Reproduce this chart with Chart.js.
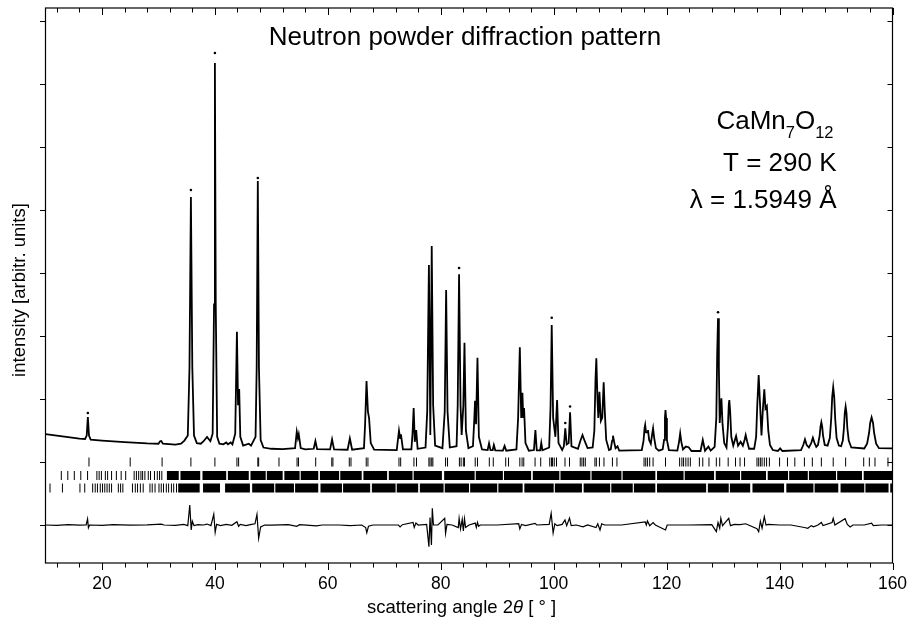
<!DOCTYPE html>
<html>
<head>
<meta charset="utf-8">
<script src="https://cdn.jsdelivr.net/npm/chart.js@4.4.1/dist/chart.umd.min.js"></script>
<style>
html,body{margin:0;padding:0;background:#fff;}
canvas{display:block;}
</style>
</head>
<body>
<canvas id="c" width="908" height="623" style="width:908px;height:623px"></canvas>
<script>
// ---------------- DATA ----------------
// calculated profile: 2theta [deg], intensity [arb.]
const profX = [10,12,14,16,17.0,17.3,17.5,17.7,18.0,20,24,28,30.0,30.3,30.5,30.8,33,34.0,34.6,35.2,35.5,35.75,36.0,36.3,36.8,37.5,38.0,38.6,39.2,39.6,39.85,40.0,40.15,40.4,40.8,41.5,42.0,42.3,42.8,43.1,43.6,43.9,44.1,44.3,44.5,45.0,46.0,46.4,47.2,47.4,47.6,47.8,48.1,48.6,50,52,54.2,54.5,54.7,54.85,55.2,56,57.5,57.8,58.1,60.4,60.75,61.1,63.5,63.9,64.3,66.4,66.6,66.85,67.1,67.3,67.6,68.2,72.2,72.6,72.8,72.95,73.3,74.8,75.0,75.2,75.4,75.65,75.9,77.3,77.6,77.9,78.15,78.4,78.65,79.0,80.3,80.7,80.95,81.2,81.6,82.8,83.0,83.24,83.5,83.7,84.0,84.2,84.45,84.9,85.7,85.95,86.07,86.25,86.5,86.75,87.3,88.3,88.55,88.8,89.2,89.4,89.65,91.0,91.3,91.6,93.4,93.7,94.0,94.25,94.46,94.6,94.75,95.0,95.6,96.5,96.76,97.0,97.6,97.8,98.0,99.2,99.45,99.65,99.9,100.3,100.6,100.85,101.5,101.8,102.05,102.3,102.65,102.9,103.15,
  104.3,104.7,105.1,105.5,106.0,106.9,107.2,107.4,107.55,107.75,107.9,108.1,108.35,108.6,108.85,109.05,109.3,109.8,110.1,110.35,110.5,110.7,110.95,111.3,111.6,115.6,115.9,116.1,116.2,116.35,116.55,116.7,116.9,117.2,117.45,117.6,117.8,118.1,118.6,119.3,119.55,119.7,119.8,119.9,120.05,120.4,121.9,122.2,122.4,122.6,122.9,123.4,123.9,124.4,126.0,126.4,126.8,127.4,127.8,128.5,128.8,128.95,129.1,129.25,129.4,129.55,129.7,129.9,130.2,130.6,130.85,131.0,131.1,131.25,131.45,131.8,132.3,132.65,133.1,133.5,133.8,134.0,134.25,134.6,135.5,135.85,136.05,136.3,136.55,136.8,137.05,137.3,137.5,137.75,138.0,138.3,138.8,139.7,140.1,140.5,143.8,144.2,144.5,144.8,145.2,145.6,145.9,146.2,146.5,146.8,147.1,147.25,147.4,147.55,147.7,148.0,148.5,148.9,149.15,149.32,149.5,149.68,149.85,150.1,150.5,150.9,151.2,151.4,151.55,151.7,151.85,152.0,152.25,152.7,155.0,155.5,155.85,156.05,156.3,156.55,156.75,157.1,157.6,160];
const profY = [444,420,395,370,365,420,714,420,355,340,315,295,290,330,333,290,275,290,340,420,1500,4206,1500,420,300,290,330,397,330,450,2500,6333,2500,400,290,280,310,280,310,280,450,2069,900,1159,400,260,290,260,400,1500,4460,1500,350,230,210,205,220,481,380,440,220,200,210,333,205,200,360,200,195,376,195,220,600,1286,800,700,300,195,190,497,380,440,200,200,450,857,320,508,210,230,800,3127,430,3428,900,260,220,800,2730,800,230,250,900,2979,900,428,900,1894,500,220,250,700,973,600,1656,400,200,190,296,190,190,270,185,180,254,180,200,700,1820,700,1100,700,857,300,180,190,508,185,185,302,185,230,900,2175,700,400,984,300,190,250,534,280,300,789,250,
  210,330,428,330,220,230,500,1300,1646,1000,700,1116,650,700,1265,800,350,190,200,340,418,320,220,250,180,190,330,540,587,470,470,508,350,290,450,534,380,220,180,200,350,700,825,700,350,190,180,320,455,320,200,245,235,175,175,349,180,245,180,240,700,1700,2281,1500,620,850,1011,600,300,230,550,900,984,800,400,260,413,260,322,260,350,428,330,210,210,400,900,1381,900,420,850,1154,850,889,500,270,190,175,217,175,190,270,360,270,230,300,386,300,240,270,420,560,630,560,420,270,260,380,690,1030,1186,1030,690,380,260,250,340,540,780,878,780,540,340,230,215,290,460,620,709,620,460,290,220,217];

// observed points standing above the calculated peak tops
const obsX = [17.5,35.75,40.0,47.6,83.24,99.65,129.1,102.05,102.9];
const obsY = [778,4317,6492,4508,3079,2290,2376,620,880];

// difference curve (obs - calc), offset to -1000
const diffX = [10,12,14,16,17.2,17.45,17.6,17.8,20,22,25,28,30.5,31,33,34.5,35.2,35.55,35.8,36.0,36.3,37,38,38.6,39.3,39.8,40.05,40.3,41,42,43,43.9,44.2,44.5,45.5,46.5,47.1,47.45,47.75,48.1,48.8,50,53,54.5,55,58,59,62,64,66,66.7,66.9,67.2,68,72.5,72.8,73.2,75.1,75.3,75.6,76,77.5,77.9,78.1,78.35,78.5,78.7,79.5,80.7,80.85,81.1,82,83.1,83.25,83.5,83.8,84.0,84.2,84.4,85,86.1,86.3,86.5,86.7,87,90,93.8,94.0,94.3,95,96.7,97,99.2,99.55,99.9,100.2,100.6,101.5,102.0,102.3,102.8,103.1,104,105.2,106,107.5,107.8,108.2,108.5,109,112,116.2,116.4,116.6,117,117.6,118,119.8,120.1,124,128,128.8,129.1,129.4,129.6,129.9,131.0,131.3,132,133,134,134.5,136.0,136.3,136.6,136.9,137.3,137.6,138,140,142,144.4,145,145.6,146,146.8,147.4,147.7,149.3,149.5,149.8,151.6,152.0,152.5,153,155,156.3,156.6,158,160];
const diffY = [-1000,-1005,-995,-1003,-1000,-905,-1043,-1000,-1005,-995,-1003,-997,-985,-1000,-1005,-990,-1010,-683,-1079,-940,-1010,-995,-1000,-985,-1010,-830,-1116,-990,-1010,-990,-1005,-947,-1020,-990,-1010,-990,-980,-830,-1211,-1030,-1000,-1003,-995,-1020,-995,-1015,-1000,-1000,-1010,-1000,-1040,-1122,-1020,-1000,-1000,-1030,-995,-960,-1040,-970,-1000,-990,-1344,-880,-1317,-735,-1000,-1000,-894,-1132,-990,-1000,-1040,-894,-1060,-910,-1095,-900,-1040,-1000,-970,-1040,-960,-1020,-1000,-1000,-980,-1063,-990,-1010,-975,-1000,-990,-814,-1127,-980,-1010,-990,-920,-1010,-889,-1010,-1000,-1030,-1000,-1040,-980,-1079,-980,-1000,-1000,-950,-1000,-937,-1010,-960,-1000,-1079,-1000,-1000,-995,-1106,-960,-1050,-894,-1010,-894,-1010,-990,-995,-980,-1000,-1060,-1106,-940,-1050,-868,-1000,-990,-1000,-1000,-1040,-1052,-1010,-1030,-1000,-960,-1010,-960,-894,-1000,-900,-990,-1030,-1000,-1000,-970,-1010,-1000,-1000];

// Bragg reflection markers, three phases
const bragg1 = [17.7,25.0,30.65,35.75,40.0,43.9,44.2,47.6,47.75,51.35,54.55,54.8,57.85,60.7,60.9,63.8,64.1,66.8,67.1,72.6,72.9,75.25,75.7,77.9,78.1,78.4,78.6,80.85,81.2,83.3,83.6,84.0,84.2,86.1,86.5,88.6,89.3,91.5,92.0,94.0,94.4,94.7,96.7,97.7,99.3,99.6,99.8,100.1,100.5,102.0,102.8,104.7,105.0,105.3,105.6,107.3,107.55,108.1,108.9,110.4,111.2,116.0,116.3,116.6,117.0,117.6,119.8,122.3,122.7,123.0,123.4,123.8,124.2,125.8,126.4,127.5,128.8,129.4,130.9,132.2,133.0,133.8,136.0,136.3,136.6,136.9,137.3,137.7,138.2,140.0,141.4,142.7,144.4,145.8,147.4,149.5,151.7,154.9,155.9,156.9,159.2];
const bragg2 = [12.8,13.95,15.1,16.25,17.45,19.1,19.5,19.9,20.6,21.0,21.7,22.55,23.4,24.2,25.7,26.1,26.5,26.9,27.2,27.6,28.2,28.6,29.3,29.8,30.2,30.6];
const bragg2Blocks = [[31.5,33.6],[33.9,37.4],[37.8,42.0],[42.3,46.0],[46.3,49.0],[49.2,52.0],[52.3,55.0],[55.2,58.3],[58.6,62.0],[62.2,66.0],[66.3,70.5],[70.8,75.0],[75.2,80.2],[80.6,86.0],[86.2,91.0],[91.2,96.0],[96.3,101.0],[101.2,106.5],[106.7,112.0],[112.2,118.0],[118.3,123.0],[123.2,128.4],[128.7,133.0],[133.2,137.6],[137.9,141.5],[141.7,145.0],[145.2,150.0],[150.2,154.6],[154.9,160]];
const bragg3 = [10.8,13.0,16.1,16.95,18.35,18.8,19.2,19.7,20.1,20.5,20.9,21.3,21.7,22.9,23.3,23.7,25.4,25.9,26.3,26.8,27.3,28.5,28.9,29.4,30.1,30.5,30.9,31.4,31.8,32.3,32.7,33.2];
const bragg3Blocks = [[33.5,37.3],[37.9,40.9],[41.8,46.2],[46.6,50.5],[50.7,54.0],[54.2,58.3],[58.7,62.5],[62.7,67.5],[67.8,72.0],[72.2,76.0],[76.3,80.5],[80.7,85.0],[85.2,90.0],[90.2,94.5],[94.8,100.0],[100.2,105.0],[105.3,110.0],[110.2,114.0],[114.2,118.0],[118.3,127.0],[127.3,131.0],[131.2,134.8],[135.2,140.8],[141.2,146.0],[146.2,150.4],[150.8,155.0],[155.2,159.3],[159.6,160]];
const braggRowY = [0,-214,-413];

// axes
const xTickValues = [12,16,20,24,28,32,36,40,44,48,52,56,60,64,68,72,76,80,84,88,92,96,100,104,108,112,116,120,124,128,132,136,140,144,148,152,156,160];
const xLabelValues = [20,40,60,80,100,120,140,160];
const xLabels = ['20','40','60','80','100','120','140','160'];
const yTickValues = [-1000,0,1000,2000,3000,4000,5000,6000,7000];

const FONT = '"Liberation Sans", Arial, Helvetica, sans-serif';

// ---------------- build datasets ----------------
const pts = (xs, ys) => xs.map((x,i)=>({x:x, y:ys[i]}));
const rowPts = (xs, y) => xs.map(x=>({x:x, y:y}));
const blockPts = (blocks, y) => {
  const out = [];
  blocks.forEach(b=>{ out.push({x:b[0],y:y}); out.push({x:b[1],y:y}); out.push({x:b[1],y:null}); });
  return out;
};

const tickDs = (data) => ({
  type:'scatter', data:data, pointStyle:'line', rotation:90, pointRadius:4.5,
  pointBorderColor:'#000', pointBackgroundColor:'#000', pointBorderWidth:1, showLine:false
});
const blockDs = (data) => ({
  type:'line', data:data, borderColor:'#000', borderWidth:9, borderCapStyle:'butt',
  pointRadius:0, spanGaps:false, tension:0
});

const decor = {
  id:'decor',
  afterDraw(chart){
    const {ctx, chartArea:a, scales:{x, y}} = chart;
    ctx.save();
    ctx.strokeStyle = '#000';
    ctx.lineWidth = 1.2;
    ctx.strokeRect(a.left, a.top, a.right - a.left, a.bottom - a.top);
    ctx.lineWidth = 1;
    ctx.beginPath();
    xTickValues.forEach(v=>{
      const px = Math.round(x.getPixelForValue(v)) + 0.5;
      const L = xLabelValues.includes(v) ? 7 : 4.5;
      ctx.moveTo(px, a.bottom); ctx.lineTo(px, a.bottom + L);
      ctx.moveTo(px, a.top); ctx.lineTo(px, a.top + L);
    });
    yTickValues.forEach(v=>{
      const py = Math.round(y.getPixelForValue(v)) + 0.5;
      ctx.moveTo(a.left - 5.5, py); ctx.lineTo(a.left, py);
      ctx.moveTo(a.right - 5, py); ctx.lineTo(a.right, py);
    });
    ctx.stroke();

    ctx.fillStyle = '#000';
    // tick labels
    ctx.font = '17.5px ' + FONT;
    ctx.textAlign = 'center';
    ctx.textBaseline = 'alphabetic';
    xLabelValues.forEach((v,i)=>{
      ctx.fillText(xLabels[i], x.getPixelForValue(v), 589);
    });

    // x axis title with italic theta
    const f = '18.5px ' + FONT, fi = 'italic 18.5px ' + FONT;
    const p1 = 'scattering angle 2', p2 = '\u03B8', p3 = ' [ \u00B0 ]';
    ctx.font = f; const w1 = ctx.measureText(p1).width, w3 = ctx.measureText(p3).width;
    ctx.font = fi; const w2 = ctx.measureText(p2).width;
    let sx = 461.5 - (w1 + w2 + w3) / 2;
    ctx.textAlign = 'left';
    ctx.font = f; ctx.fillText(p1, sx, 613);
    ctx.font = fi; ctx.fillText(p2, sx + w1, 613);
    ctx.font = f; ctx.fillText(p3, sx + w1 + w2, 613);

    // y axis title
    ctx.save();
    ctx.translate(25, 290);
    ctx.rotate(-Math.PI / 2);
    ctx.textAlign = 'center';
    ctx.font = '18.5px ' + FONT;
    ctx.fillText('intensity [arbitr. units]', 0, 0);
    ctx.restore();

    // chart title
    ctx.textAlign = 'center';
    ctx.font = '26px ' + FONT;
    ctx.fillText('Neutron powder diffraction pattern', 465, 45);

    // annotation block, right aligned
    const R = 836.5;
    ctx.textAlign = 'right';
    ctx.fillText('T = 290 K', R, 171);
    ctx.fillText('\u03BB = 1.5949 \u00C5', R, 208);
    // CaMn7O12 with subscripts
    const big = '26px ' + FONT, small = '16.5px ' + FONT;
    const parts = [['CaMn', big, 0], ['7', small, 9], ['O', big, 0], ['12', small, 9]];
    let tot = 0;
    parts.forEach(p=>{ ctx.font = p[1]; p.push(ctx.measureText(p[0]).width); tot += p[3]; });
    let cx = R - 3 - tot;
    ctx.textAlign = 'left';
    parts.forEach(p=>{ ctx.font = p[1]; ctx.fillText(p[0], cx, 129 + p[2]); cx += p[3]; });
    ctx.restore();
  }
};

new Chart(document.getElementById('c'), {
  type:'scatter',
  data:{
    datasets:[
      tickDs(rowPts(bragg1, braggRowY[0])),
      tickDs(rowPts(bragg2, braggRowY[1])),
      blockDs(blockPts(bragg2Blocks, braggRowY[1])),
      tickDs(rowPts(bragg3, braggRowY[2])),
      blockDs(blockPts(bragg3Blocks, braggRowY[2])),
      { type:'line', data:pts(diffX, diffY), borderColor:'#000', borderWidth:1.2, pointRadius:0, tension:0 },
      { type:'line', data:pts(profX, profY), borderColor:'#000', borderWidth:1.8, pointRadius:0, tension:0 },
      { type:'scatter', data:pts(obsX, obsY), pointRadius:1.3, pointBackgroundColor:'#000', pointBorderWidth:0 }
    ]
  },
  options:{
    responsive:false,
    animation:false,
    events:[],
    layout:{padding:{left:45.5, right:15.5, top:8, bottom:60}},
    plugins:{legend:{display:false}, tooltip:{enabled:false}, title:{display:false}},
    scales:{
      x:{type:'linear', min:10, max:160, display:false},
      y:{type:'linear', min:-1603, max:7206, display:false}
    }
  },
  plugins:[decor]
});
</script>
</body>
</html>
